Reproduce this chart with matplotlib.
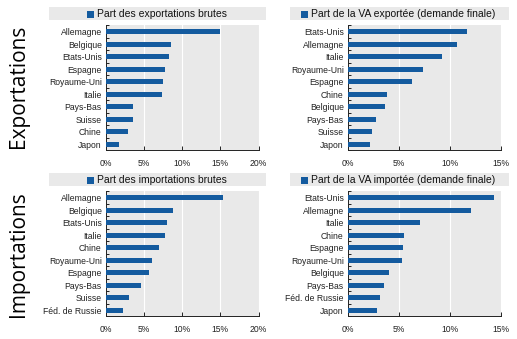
import matplotlib
matplotlib.use("Agg")
import matplotlib.pyplot as plt
from matplotlib.patches import Rectangle
from matplotlib.ticker import FixedLocator, PercentFormatter

# data (in %)
exp_brut_pays = ["Allemagne", "Belgique", "Etats-Unis", "Espagne", "Royaume-Uni",
                 "Italie", "Pays-Bas", "Suisse", "Chine", "Japon"]
exp_brut_val = [15.0, 8.5, 8.3, 7.7, 7.5, 7.4, 3.6, 3.5, 2.9, 1.75]

exp_va_pays = ["Etats-Unis", "Allemagne", "Italie", "Royaume-Uni", "Espagne",
               "Chine", "Belgique", "Pays-Bas", "Suisse", "Japon"]
exp_va_val = [11.7, 10.7, 9.2, 7.4, 6.3, 3.8, 3.65, 2.75, 2.35, 2.15]

imp_brut_pays = ["Allemagne", "Belgique", "Etats-Unis", "Italie", "Chine",
                 "Royaume-Uni", "Espagne", "Pays-Bas", "Suisse", "Féd. de Russie"]
imp_brut_val = [15.4, 8.8, 8.0, 7.7, 7.0, 6.05, 5.6, 4.65, 3.05, 2.2]

imp_va_pays = ["Etats-Unis", "Allemagne", "Italie", "Chine", "Espagne",
               "Royaume-Uni", "Belgique", "Pays-Bas", "Féd. de Russie", "Japon"]
imp_va_val = [14.4, 12.1, 7.1, 5.5, 5.4, 5.3, 4.0, 3.5, 3.1, 2.9]

titres = ["Part des exportations brutes", "Part de la VA exportée (demande finale)",
          "Part des importations brutes", "Part de la VA importée (demande finale)"]
lignes = ["Exportations", "Importations"]

BLEU = "#145b9f"
FOND = "#e9e9e9"
NARROW = ["Liberation Sans Narrow", "Liberation Sans", "DejaVu Sans"]

W, H = 517, 339
fig = plt.figure(figsize=(W / 100, H / 100), dpi=100)

# (pays, valeurs, titre, xmax, coin axes en px, bandeau x0/x1, bandeau y0)
panels = [
    (exp_brut_pays, exp_brut_val, titres[0], 20, (106, 25.4), (49, 266), 7),
    (exp_va_pays, exp_va_val, titres[1], 15, (348, 25.4), (290, 509), 7),
    (imp_brut_pays, imp_brut_val, titres[2], 20, (106, 191.4), (49, 266), 173),
    (imp_va_pays, imp_va_val, titres[3], 15, (348, 191.4), (290, 509), 173),
]

for pays, vals, titre, xmax, (x0, y0), (bx0, bx1), by0 in panels:
    ax = fig.add_axes([x0 / W, 1 - (y0 + 125) / H, 152.5 / W, 125 / H])
    ax.set_facecolor(FOND)
    ypos = list(range(len(pays)))
    ax.barh(ypos, vals, height=0.42, color=BLEU, zorder=3)
    ax.set_ylim(len(pays) - 0.5, -0.5)
    ax.set_xlim(0, xmax)
    ax.set_xticks(range(0, xmax + 1, 5))
    ax.xaxis.set_major_formatter(PercentFormatter(decimals=0))
    ax.set_yticks(ypos)
    ax.set_yticklabels(pays)
    ax.yaxis.set_minor_locator(FixedLocator([i - 0.5 for i in range(len(pays) + 1)]))
    ax.tick_params(axis="y", which="major", length=0, pad=3)
    ax.tick_params(axis="y", which="minor", direction="in", length=2.5, width=0.6)
    ax.tick_params(axis="x", direction="in", length=3, width=0.6, pad=6)
    for lab in ax.get_xticklabels() + ax.get_yticklabels():
        lab.set_fontfamily(NARROW)
        lab.set_fontsize(6.2)
        lab.set_color("#222222")
    ax.grid(axis="x", color="white", linewidth=0.8, zorder=0)
    for s in ["top", "right"]:
        ax.spines[s].set_visible(False)
    for s in ["left", "bottom"]:
        ax.spines[s].set_linewidth(0.7)
        ax.spines[s].set_color("#222222")

    # bandeau de légende
    fig.patches.append(Rectangle((bx0 / W, 1 - (by0 + 13) / H), (bx1 - bx0) / W, 13 / H,
                                 transform=fig.transFigure, facecolor=FOND,
                                 edgecolor="none", zorder=0))
    t = fig.text((bx0 + bx1) / 2 / W + 4 / W, 1 - (by0 + 6.7) / H, titre,
                 ha="center", va="center", fontsize=7.5, family=NARROW, color="#111111")
    fig.canvas.draw()
    bb = t.get_window_extent()
    fig.patches.append(Rectangle(((bb.x0 - 10) / W, 1 - (by0 + 10.5) / H), 7 / W, 7 / H,
                                 transform=fig.transFigure, facecolor=BLEU,
                                 edgecolor="none"))

fig.text(19 / W, 1 - 86 / H, lignes[0], rotation=90, ha="center", va="center",
         fontsize=15, family=["Open Sans", "DejaVu Sans"])
fig.text(19 / W, 1 - 254 / H, lignes[1], rotation=90, ha="center", va="center",
         fontsize=15, family=["Open Sans", "DejaVu Sans"])

fig.savefig("out.png", dpi=100)
